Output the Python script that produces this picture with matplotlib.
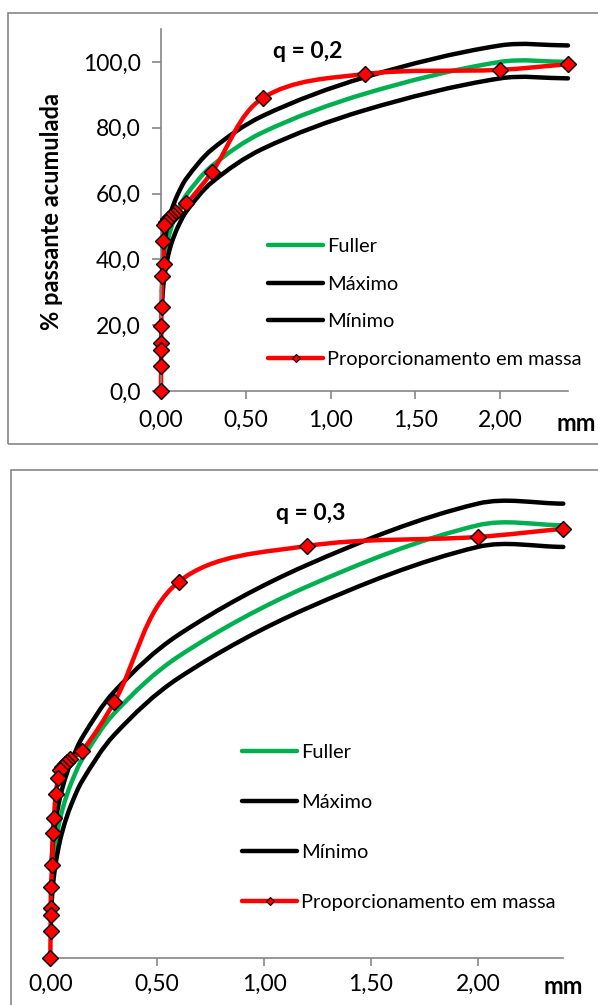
import numpy as np
from matplotlib import pyplot as plt
from matplotlib.path import Path
from matplotlib.patches import PathPatch, Rectangle
from matplotlib.lines import Line2D

plt.rcParams['font.family'] = ['Lato', 'DejaVu Sans']

# Fuller / limits (same sizes for both panels)
x_fuller = [0.005, 0.01, 0.02, 0.04, 0.06, 0.075, 0.1, 0.15, 0.3, 0.6, 1.2, 2.0, 2.4]

fuller_q02 = [30.2, 34.7, 39.8, 45.7, 49.6, 51.8, 54.9, 59.6, 68.4, 78.6, 90.3, 100.0, 100.0]
max_q02 = [35.2, 39.7, 44.8, 50.7, 54.6, 56.8, 59.9, 64.6, 73.4, 83.6, 95.3, 105.0, 105.0]
min_q02 = [25.2, 29.7, 34.8, 40.7, 44.6, 46.8, 49.9, 54.6, 63.4, 73.6, 85.3, 95.0, 95.0]

fuller_q03 = [16.6, 20.4, 25.1, 30.9, 34.9, 37.3, 40.7, 46.0, 56.6, 69.7, 85.8, 100.0, 100.0]
max_q03 = [21.6, 25.4, 30.1, 35.9, 39.9, 42.3, 45.7, 51.0, 61.6, 74.7, 90.8, 105.0, 105.0]
min_q03 = [11.6, 15.4, 20.1, 25.9, 29.9, 32.3, 35.7, 41.0, 51.6, 64.7, 80.8, 95.0, 95.0]

# Proporcionamento em massa
x_mass_q02 = [2.4, 2.0, 1.2, 0.6, 0.3, 0.15, 0.085, 0.07, 0.055, 0.042, 0.03,
              0.016, 0.014, 0.016, 0.008, 0.003, 0.002, 0.001, 0.001, 0.0005, 0.0]
y_mass_q02 = [99.3, 97.6, 96.3, 89.0, 66.5, 57.0, 54.3, 53.6, 52.9, 52.2, 51.5,
              50.4, 45.6, 38.7, 35.0, 25.6, 19.8, 14.5, 12.4, 7.5, 0.0]

x_mass_q03 = [2.4, 2.0, 1.2, 0.6, 0.3, 0.15, 0.092, 0.08, 0.068, 0.056, 0.045,
              0.037, 0.025, 0.017, 0.011, 0.009, 0.003, 0.002, 0.0018, 0.0015, 0.0]
y_mass_q03 = [99.2, 97.3, 95.2, 86.9, 59.2, 47.9, 46.0, 45.4, 44.8, 44.1, 43.5,
              41.5, 37.9, 32.4, 28.9, 21.5, 16.5, 11.6, 9.9, 6.3, 0.0]

xticks = [0.0, 0.5, 1.0, 1.5, 2.0]
xtick_labels = ["0,00", "0,50", "1,00", "1,50", "2,00"]
yticks = [0, 20, 40, 60, 80, 100]
ytick_labels = ["0,0", "20,0", "40,0", "60,0", "80,0", "100,0"]

labels = ["Fuller", "Máximo", "Mínimo", "Proporcionamento em massa"]
green = "#00B050"
red = "#FF0000"
gray = "#868686"


def smooth(x, y, sx, sy):
    # excel-like smoothed line: bezier through the points, handles scaled by
    # segment length (worked out in pixel units, then mapped back to data)
    p = np.column_stack([np.asarray(x) * sx, np.asarray(y) * sy]).astype(float)
    n = len(p)
    seg = np.hypot(*np.diff(p, axis=0).T)
    tang = []
    for i in range(n):
        a = p[max(i - 1, 0)]
        b = p[min(i + 1, n - 1)]
        d = b - a
        nd = np.hypot(*d)
        tang.append(d / nd if nd > 0 else d * 0)
    verts = [p[0]]
    codes = [Path.MOVETO]
    for i in range(n - 1):
        h = seg[i] / 3
        verts += [p[i] + tang[i] * h, p[i + 1] - tang[i + 1] * h, p[i + 1]]
        codes += [Path.CURVE4] * 3
    v = np.array(verts)
    v[:, 0] /= sx
    v[:, 1] /= sy
    return Path(v, codes)


def draw_line(ax, x, y, color, sx, sy):
    ax.add_patch(PathPatch(smooth(x, y, sx, sy), fill=False, edgecolor=color, lw=3.2,
                           capstyle='round', joinstyle='round', clip_on=False, zorder=2))


fig = plt.figure(figsize=(5.98, 10.05), dpi=100)

# chart frames
fig.patches.append(Rectangle((8/598, 1-444/1005), 1.0, 431/1005, transform=fig.transFigure,
                             fill=False, edgecolor=gray, lw=1.2))
fig.patches.append(Rectangle((11/598, -0.05), 1.0, 1-470/1005+0.05, transform=fig.transFigure,
                             fill=False, edgecolor=gray, lw=1.2))

panels = [
    dict(rect=[161/598, 1-391/1005, 407/598, 362/1005], fuller=fuller_q02, mx=max_q02, mn=min_q02,
         xm=x_mass_q02, ym=y_mass_q02, title="q = 0,2", tpos=(308, 51), mm=(576, 423),
         leg=(268, 303), lspace=1.03, yaxis=True, xpad=8),
    dict(rect=[50.3/598, 1-958/1005, 513/598, 476/1005], fuller=fuller_q03, mx=max_q03, mn=min_q03,
         xm=x_mass_q03, ym=y_mass_q03, title="q = 0,3", tpos=(311, 513), mm=(563, 986),
         leg=(242, 827), lspace=1.65, yaxis=False, xpad=6),
]

for pn in panels:
    ax = fig.add_axes(pn['rect'])
    ax.set_xlim(0, 2.4)
    ax.set_ylim(0, 110)
    sx = pn['rect'][2] * 598 / 2.4
    sy = pn['rect'][3] * 1005 / 110
    draw_line(ax, x_fuller, pn['fuller'], green, sx, sy)
    draw_line(ax, x_fuller, pn['mx'], 'black', sx, sy)
    draw_line(ax, x_fuller, pn['mn'], 'black', sx, sy)
    draw_line(ax, pn['xm'], pn['ym'], red, sx, sy)
    ax.plot(pn['xm'], pn['ym'], ls='none', marker='D', ms=8.5, mfc=red, mec='black',
            mew=1.0, clip_on=False, zorder=3)

    for s in ['top', 'right']:
        ax.spines[s].set_visible(False)
    ax.spines['bottom'].set_color(gray)
    ax.spines['bottom'].set_linewidth(1.2)
    ax.set_xticks(xticks)
    ax.set_xticklabels(xtick_labels)
    ax.tick_params(axis='x', direction='out', length=5.5, width=1.2, color=gray,
                   labelsize=16.5, pad=pn['xpad'])
    if pn['yaxis']:
        ax.spines['left'].set_color(gray)
        ax.spines['left'].set_linewidth(1.2)
        ax.set_yticks(yticks)
        ax.set_yticklabels(ytick_labels)
        ax.tick_params(axis='y', direction='out', length=6.5, width=1.2, color=gray,
                       labelsize=16.5, pad=8)
    else:
        ax.spines['left'].set_visible(False)
        ax.set_yticks([])
    ax.set_facecolor('none')

    fig.text(pn['tpos'][0]/598, 1-pn['tpos'][1]/1005, pn['title'], ha='center', va='center',
             fontsize=16.5, fontweight='bold')
    fig.text(pn['mm'][0]/598, 1-pn['mm'][1]/1005, "mm", ha='center', va='center',
             fontsize=17, fontweight='bold')

    handles = [Line2D([], [], color=green, lw=3.2, solid_capstyle='round'),
               Line2D([], [], color='black', lw=3.2, solid_capstyle='round'),
               Line2D([], [], color='black', lw=3.2, solid_capstyle='round'),
               Line2D([], [], color=red, lw=3.2, solid_capstyle='round', marker='D', ms=4,
                      mfc=red, mec='black', mew=0.8)]
    ax.legend(handles, labels, loc='center left',
              bbox_to_anchor=(pn['leg'][0]/598, 1-pn['leg'][1]/1005),
              bbox_transform=fig.transFigure, frameon=False, fontsize=14.4,
              handlelength=2.75, handletextpad=0.2, labelspacing=pn['lspace'],
              borderpad=0, borderaxespad=0)

fig.text(52/598, 1-211/1005, "% passante acumulada", rotation=90, ha='center', va='center',
         fontsize=17, fontweight='bold')

fig.savefig("out.png", dpi=100)
